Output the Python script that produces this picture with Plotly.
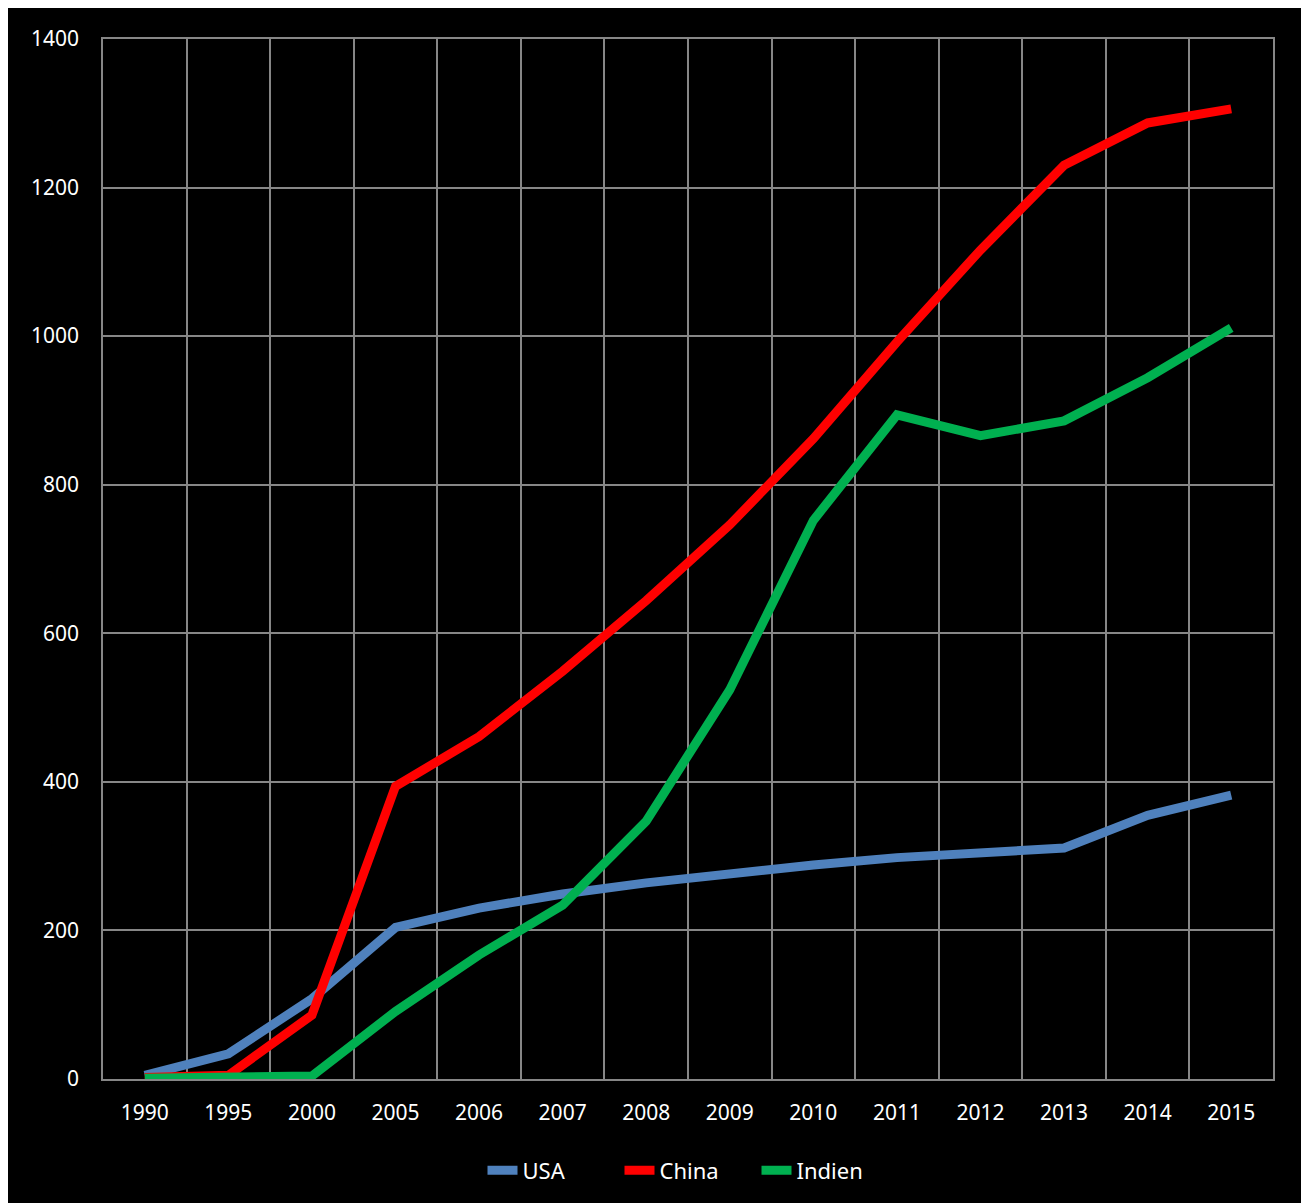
import plotly.graph_objects as go

years = ["1990", "1995", "2000", "2005", "2006", "2007", "2008", "2009",
         "2010", "2011", "2012", "2013", "2014", "2015"]
usa = [5, 34, 108, 204, 230, 249, 264, 277, 288, 298, 305, 311, 355, 382]
china = [2, 5, 86, 394, 461, 549, 644, 746, 862, 992, 1116, 1230, 1287, 1306]
indien = [1, 1, 4, 91, 167, 234, 347, 524, 752, 894, 866, 886, 944, 1011]

series = [("USA", usa, "#4f81bd"), ("China", china, "#ff0000"), ("Indien", indien, "#00b050")]

fig = go.Figure()
for name, vals, col in series:
    fig.add_trace(go.Scatter(x=years, y=vals, name=name, mode="lines",
                             line=dict(color=col, width=9)))

grid = "#868686"
fig.update_layout(
    width=1296, height=1195,
    paper_bgcolor="black", plot_bgcolor="black",
    margin=dict(l=95, r=31, t=31, b=123),
    font=dict(family="Noto Sans", size=21, color="white"),
    xaxis=dict(type="category", range=[-0.5, 13.5], tickson="boundaries",
               showgrid=True, gridcolor=grid, gridwidth=1.5, ticks="",
               showline=True, linecolor=grid, linewidth=1.5, mirror=True,
               tickfont=dict(size=21, color="white"), ticklabelstandoff=14),
    yaxis=dict(range=[0, 1400], dtick=200, showgrid=True, gridcolor=grid, gridwidth=1.5,
               showline=True, linecolor=grid, linewidth=1.5, mirror=True,
               zeroline=False, tickfont=dict(size=21, color="white"), ticks="",
               ticklabelstandoff=18),
    legend=dict(orientation="h", x=0.5, xanchor="center", y=-0.087, yanchor="middle",
                font=dict(size=22, color="white"), bgcolor="rgba(0,0,0,0)",
                entrywidth=92, entrywidthmode="pixels"),
    showlegend=True,
)
fig.write_html("out.html")
